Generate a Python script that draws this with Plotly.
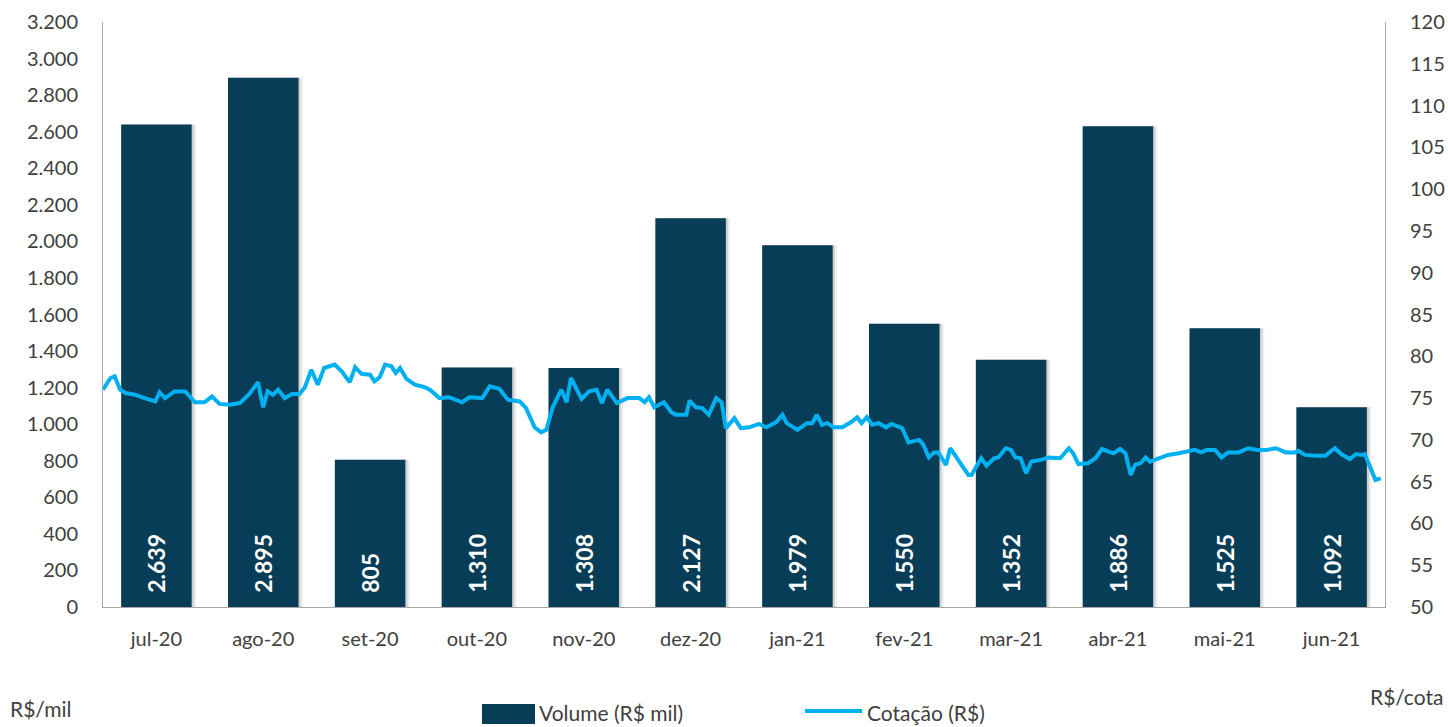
import plotly.graph_objects as go

months = ["jul-20", "ago-20", "set-20", "out-20", "nov-20", "dez-20",
          "jan-21", "fev-21", "mar-21", "abr-21", "mai-21", "jun-21"]
volume = [2639, 2895, 805, 1310, 1308, 2127, 1979, 1550, 1352, 2630, 1525, 1092]
volume_labels = ["2.639", "2.895", "805", "1.310", "1.308", "2.127",
                 "1.979", "1.550", "1.352", "1.886", "1.525", "1.092"]

# price series: time in months since start of jul-20, and price (R$)
price_t = [0.00, 0.07, 0.11, 0.16, 0.21, 0.30, 0.39, 0.49, 0.53, 0.58, 0.67, 0.77, 0.86, 0.95,
           1.02, 1.09, 1.19, 1.28, 1.37, 1.45, 1.50, 1.54, 1.59, 1.64, 1.70, 1.77, 1.84, 1.89, 1.95,
           2.01, 2.07, 2.17, 2.24, 2.31, 2.36, 2.42, 2.50, 2.54, 2.59, 2.64, 2.70, 2.74, 2.78, 2.84, 2.92,
           3.01, 3.06, 3.15, 3.24, 3.36, 3.43, 3.55, 3.62, 3.71, 3.79, 3.90, 3.96,
           4.04, 4.10, 4.15, 4.21, 4.29, 4.34, 4.38, 4.48, 4.55, 4.62, 4.67, 4.72, 4.81, 4.91,
           5.02, 5.07, 5.11, 5.16, 5.25, 5.32, 5.36, 5.46, 5.49, 5.55, 5.61, 5.67, 5.74, 5.79, 5.83, 5.91, 5.97,
           6.05, 6.14, 6.21, 6.30, 6.36, 6.40, 6.50, 6.59, 6.64, 6.68, 6.73, 6.78, 6.84, 6.92,
           7.00, 7.06, 7.10, 7.15, 7.20, 7.26, 7.33, 7.38, 7.48, 7.54, 7.64, 7.68, 7.73, 7.78, 7.82, 7.89, 7.93,
           8.01, 8.10, 8.13, 8.22, 8.27, 8.34, 8.38, 8.45, 8.50, 8.54, 8.59, 8.64, 8.69, 8.78, 8.85, 8.90, 8.96,
           9.04, 9.08, 9.13, 9.22, 9.29, 9.35, 9.43, 9.46, 9.52, 9.57, 9.62, 9.66, 9.71, 9.76, 9.80, 9.88, 9.97,
           10.07, 10.16, 10.22, 10.28, 10.33, 10.41, 10.47, 10.53, 10.63, 10.72, 10.81, 10.89, 10.98,
           11.07, 11.16, 11.19, 11.25, 11.35, 11.44, 11.53, 11.59, 11.67, 11.73, 11.78, 11.81, 11.86, 11.91, 11.96]
price = [76.0, 77.4, 77.6, 76.0, 75.6, 75.4, 75.0, 74.6, 75.7, 75.0, 75.8, 75.8, 74.5, 74.5,
         75.2, 74.3, 74.2, 74.4, 75.5, 76.9, 73.9, 75.8, 75.4, 76.0, 75.0, 75.5, 75.5, 76.3, 78.4,
         76.6, 78.6, 79.0, 78.1, 76.9, 78.7, 77.9, 77.8, 77.0, 77.5, 79.0, 78.8, 78.0, 78.6, 77.3, 76.6,
         76.3, 76.0, 75.0, 75.1, 74.5, 75.1, 75.0, 76.4, 76.1, 74.8, 74.6, 73.8,
         71.5, 70.9, 71.2, 73.9, 76.0, 74.5, 77.4, 74.9, 75.8, 76.0, 74.4, 76.0, 74.4, 75.0,
         75.0, 74.5, 75.1, 73.9, 74.5, 73.3, 73.0, 73.0, 74.7, 73.9, 73.8, 73.0, 75.0, 74.5, 71.4, 72.6, 71.4,
         71.5, 71.9, 71.5, 72.1, 73.0, 72.0, 71.2, 72.0, 72.0, 73.0, 71.8, 72.0, 71.5, 71.5,
         72.1, 72.7, 72.0, 72.7, 71.8, 72.0, 71.5, 71.9, 71.4, 69.7, 70.0, 69.4, 67.9, 68.5, 68.5, 67.0, 69.0,
         67.4, 65.8, 65.8, 67.8, 66.9, 67.8, 67.9, 69.0, 68.8, 67.9, 67.8, 66.0, 67.4, 67.6, 67.9, 67.8, 67.8,
         69.0, 68.4, 67.1, 67.2, 67.8, 68.9, 68.5, 68.4, 68.9, 68.4, 65.8, 67.0, 67.2, 67.9, 67.4, 67.8, 68.2,
         68.4, 68.7, 68.8, 68.5, 68.8, 68.8, 67.9, 68.5, 68.5, 69.0, 68.8, 68.8, 69.0,
         68.5, 68.5, 68.7, 68.2, 68.1, 68.1, 69.0, 68.3, 67.7, 68.3, 68.2, 68.3, 66.8, 65.2, 65.4]

left_ticks = list(range(0, 3201, 200))
right_ticks = list(range(50, 121, 5))

BAR = "#073D56"
LINE = "#00B0F0"
FONT = "Lato, Carlito, Calibri, sans-serif"
TICKC = "#404040"
AXC = "#A6A6A6"
CLEAR = "rgba(0,0,0,0)"

xs = list(range(len(months)))
line_x = [t - 0.5 for t in price_t]
bar_text = ["\u00a0\u00a0" + s for s in volume_labels]

W, H = 1448, 727
PL, PR, PT, PB = 103, 1385, 22, 607


def px(xp):
    return (xp - PL) / (PR - PL)


def py(yp):
    return (PB - yp) / (PB - PT)


fig = go.Figure()
# soft shadow behind bars
fig.add_trace(go.Bar(x=xs, y=volume, width=0.66, offset=-0.29,
                     marker=dict(color="rgba(0,0,0,0.07)", line=dict(width=0)),
                     showlegend=False, hoverinfo="skip"))
fig.add_trace(go.Bar(x=xs, y=volume, width=0.66, offset=-0.31,
                     marker=dict(color="rgba(0,0,0,0.12)", line=dict(width=0)),
                     showlegend=False, hoverinfo="skip"))
fig.add_trace(go.Bar(x=xs, y=volume, width=0.66, offset=-0.33, name="Volume (R$ mil)",
                     marker=dict(color=BAR, line=dict(width=0)),
                     text=bar_text, textposition="inside", insidetextanchor="start",
                     textangle=-90, textfont=dict(color="white", size=23, family=FONT, weight="bold"),
                     showlegend=False))
fig.add_trace(go.Scatter(x=line_x, y=price, mode="lines", name="Cotação (R$)", yaxis="y2",
                         line=dict(color=LINE, width=4), showlegend=False))

axis_common = dict(showgrid=False, showline=True, linecolor=AXC, linewidth=1, zeroline=False,
                   ticks="outside", tickcolor=CLEAR, automargin=False,
                   tickfont=dict(size=20, color=TICKC, family=FONT))

fig.update_layout(
    width=W, height=H,
    barmode="overlay",
    separators=",.",
    showlegend=False,
    paper_bgcolor="white", plot_bgcolor="white",
    margin=dict(l=PL, r=W - PR, t=PT, b=H - PB, autoexpand=False),
    font=dict(family=FONT, size=20, color=TICKC),
    xaxis=dict(range=[-0.5, 11.5], tickvals=xs, ticktext=months, ticklen=14, **axis_common),
    yaxis=dict(range=[0, 3200], tickvals=left_ticks, tickformat=",d", separatethousands=True,
               ticklen=20, **axis_common),
    yaxis2=dict(range=[50, 120], tickvals=right_ticks, overlaying="y", side="right",
                ticklen=20, **axis_common),
    shapes=[
        dict(type="rect", xref="paper", yref="paper", x0=px(482), x1=px(535), y0=py(704), y1=py(724),
             fillcolor=BAR, line=dict(width=0)),
        dict(type="line", xref="paper", yref="paper", x0=px(805), x1=px(862), y0=py(711), y1=py(711),
             line=dict(color=LINE, width=4)),
    ],
    annotations=[
        dict(text="Volume (R$ mil)", xref="paper", yref="paper", x=px(537), y=py(712),
             xanchor="left", yanchor="middle", showarrow=False,
             font=dict(size=21, color=TICKC, family=FONT)),
        dict(text="Cotação (R$)", xref="paper", yref="paper", x=px(865), y=py(712),
             xanchor="left", yanchor="middle", showarrow=False,
             font=dict(size=21, color=TICKC, family=FONT)),
        dict(text="R$/mil", xref="paper", yref="paper", x=px(8), y=py(708), xanchor="left",
             yanchor="middle", showarrow=False, font=dict(size=21, color=TICKC, family=FONT)),
        dict(text="R$/cota", xref="paper", yref="paper", x=px(1445), y=py(697), xanchor="right",
             yanchor="middle", showarrow=False, font=dict(size=21, color=TICKC, family=FONT)),
    ],
)

fig.write_html(
    "out.html",
    config={"displayModeBar": False},
    post_script="document.documentElement.style.margin='0';document.body.style.margin='0';"
                "document.documentElement.style.overflow='hidden';document.body.style.overflow='hidden';",
)
